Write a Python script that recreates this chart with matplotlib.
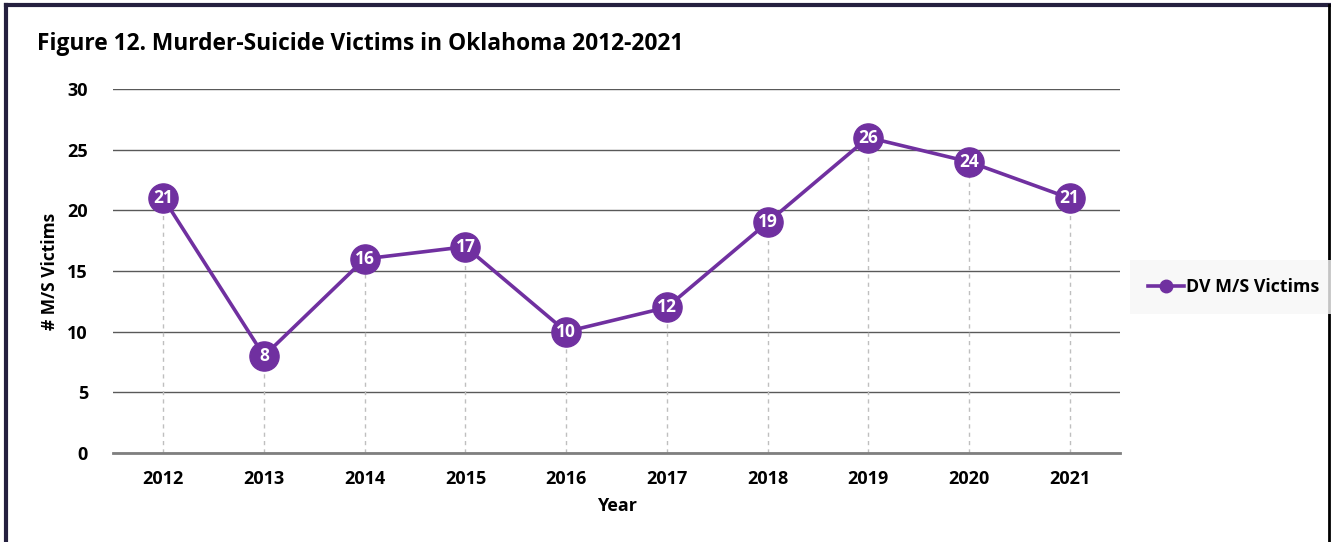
import matplotlib.pyplot as plt
from matplotlib.lines import Line2D

years = [2012, 2013, 2014, 2015, 2016, 2017, 2018, 2019, 2020, 2021]
victims = [21, 8, 16, 17, 10, 12, 19, 26, 24, 21]
yticks = [0, 5, 10, 15, 20, 25, 30]

purple = '#7030A0'
plt.rcParams['font.family'] = ['Open Sans', 'DejaVu Sans']

fig = plt.figure(figsize=(13.31, 5.42), dpi=100)
ax = fig.add_axes([0.0849, 0.1642, 0.7566, 0.6716])

# dotted drop lines from each point
for x, y in zip(years, victims):
    ax.plot([x, x], [0, y], color='#bfbfbf', lw=1, ls=(0, (3, 3)), zorder=1)

ax.plot(years, victims, color=purple, lw=2.6, marker='o', ms=21,
        markerfacecolor=purple, markeredgecolor=purple, zorder=3)
for x, y in zip(years, victims):
    ax.text(x, y, str(y), color='white', fontsize=12.5, fontweight='bold',
            ha='center', va='center', zorder=4)

ax.set_xlim(2011.5, 2021.5)
ax.set_ylim(0, 30)
ax.set_yticks(yticks)
ax.set_xticks(years)
ax.grid(axis='y', color='#595959', lw=1)
ax.set_axisbelow(True)
for s in ['top', 'right', 'left']:
    ax.spines[s].set_visible(False)
ax.spines['bottom'].set_color('#7f7f7f')
ax.spines['bottom'].set_linewidth(2)
ax.tick_params(length=0, labelsize=13)
ax.tick_params(axis='y', pad=18)
ax.tick_params(axis='x', pad=12)
for lab in ax.get_xticklabels() + ax.get_yticklabels():
    lab.set_fontweight('bold')

ax.set_xlabel('Year', fontsize=13, fontweight='bold', labelpad=7)
ax.set_ylabel('# M/S Victims', fontsize=12.5, fontweight='bold', labelpad=6)

fig.text(0.028, 0.918, 'Figure 12. Murder-Suicide Victims in Oklahoma 2012-2021',
         fontsize=16.4, fontweight='bold', va='center')

handle = Line2D([], [], color=purple, lw=2.6, marker='o', ms=9)
leg = fig.legend([handle], ['DV M/S Victims'], loc='center left',
                 bbox_to_anchor=(0.8425, 0.47), frameon=True, fancybox=False,
                 prop={'weight': 'bold', 'size': 12.8}, handlelength=2.0,
                 handletextpad=0.15, borderpad=1.0)
leg.get_frame().set_facecolor('#f7f7f7')
leg.get_frame().set_edgecolor('none')

# outer frame (left, top, right)
frame_c = '#25203f'
fig.add_artist(Line2D([0.0045, 0.0045], [0, 0.991], color=frame_c, lw=3, transform=fig.transFigure))
fig.add_artist(Line2D([0.0045, 0.9985], [0.991, 0.991], color=frame_c, lw=3, transform=fig.transFigure))
fig.add_artist(Line2D([0.9985, 0.9985], [0, 0.991], color='black', lw=2, transform=fig.transFigure))

fig.savefig('out.png', dpi=100, facecolor='white')
